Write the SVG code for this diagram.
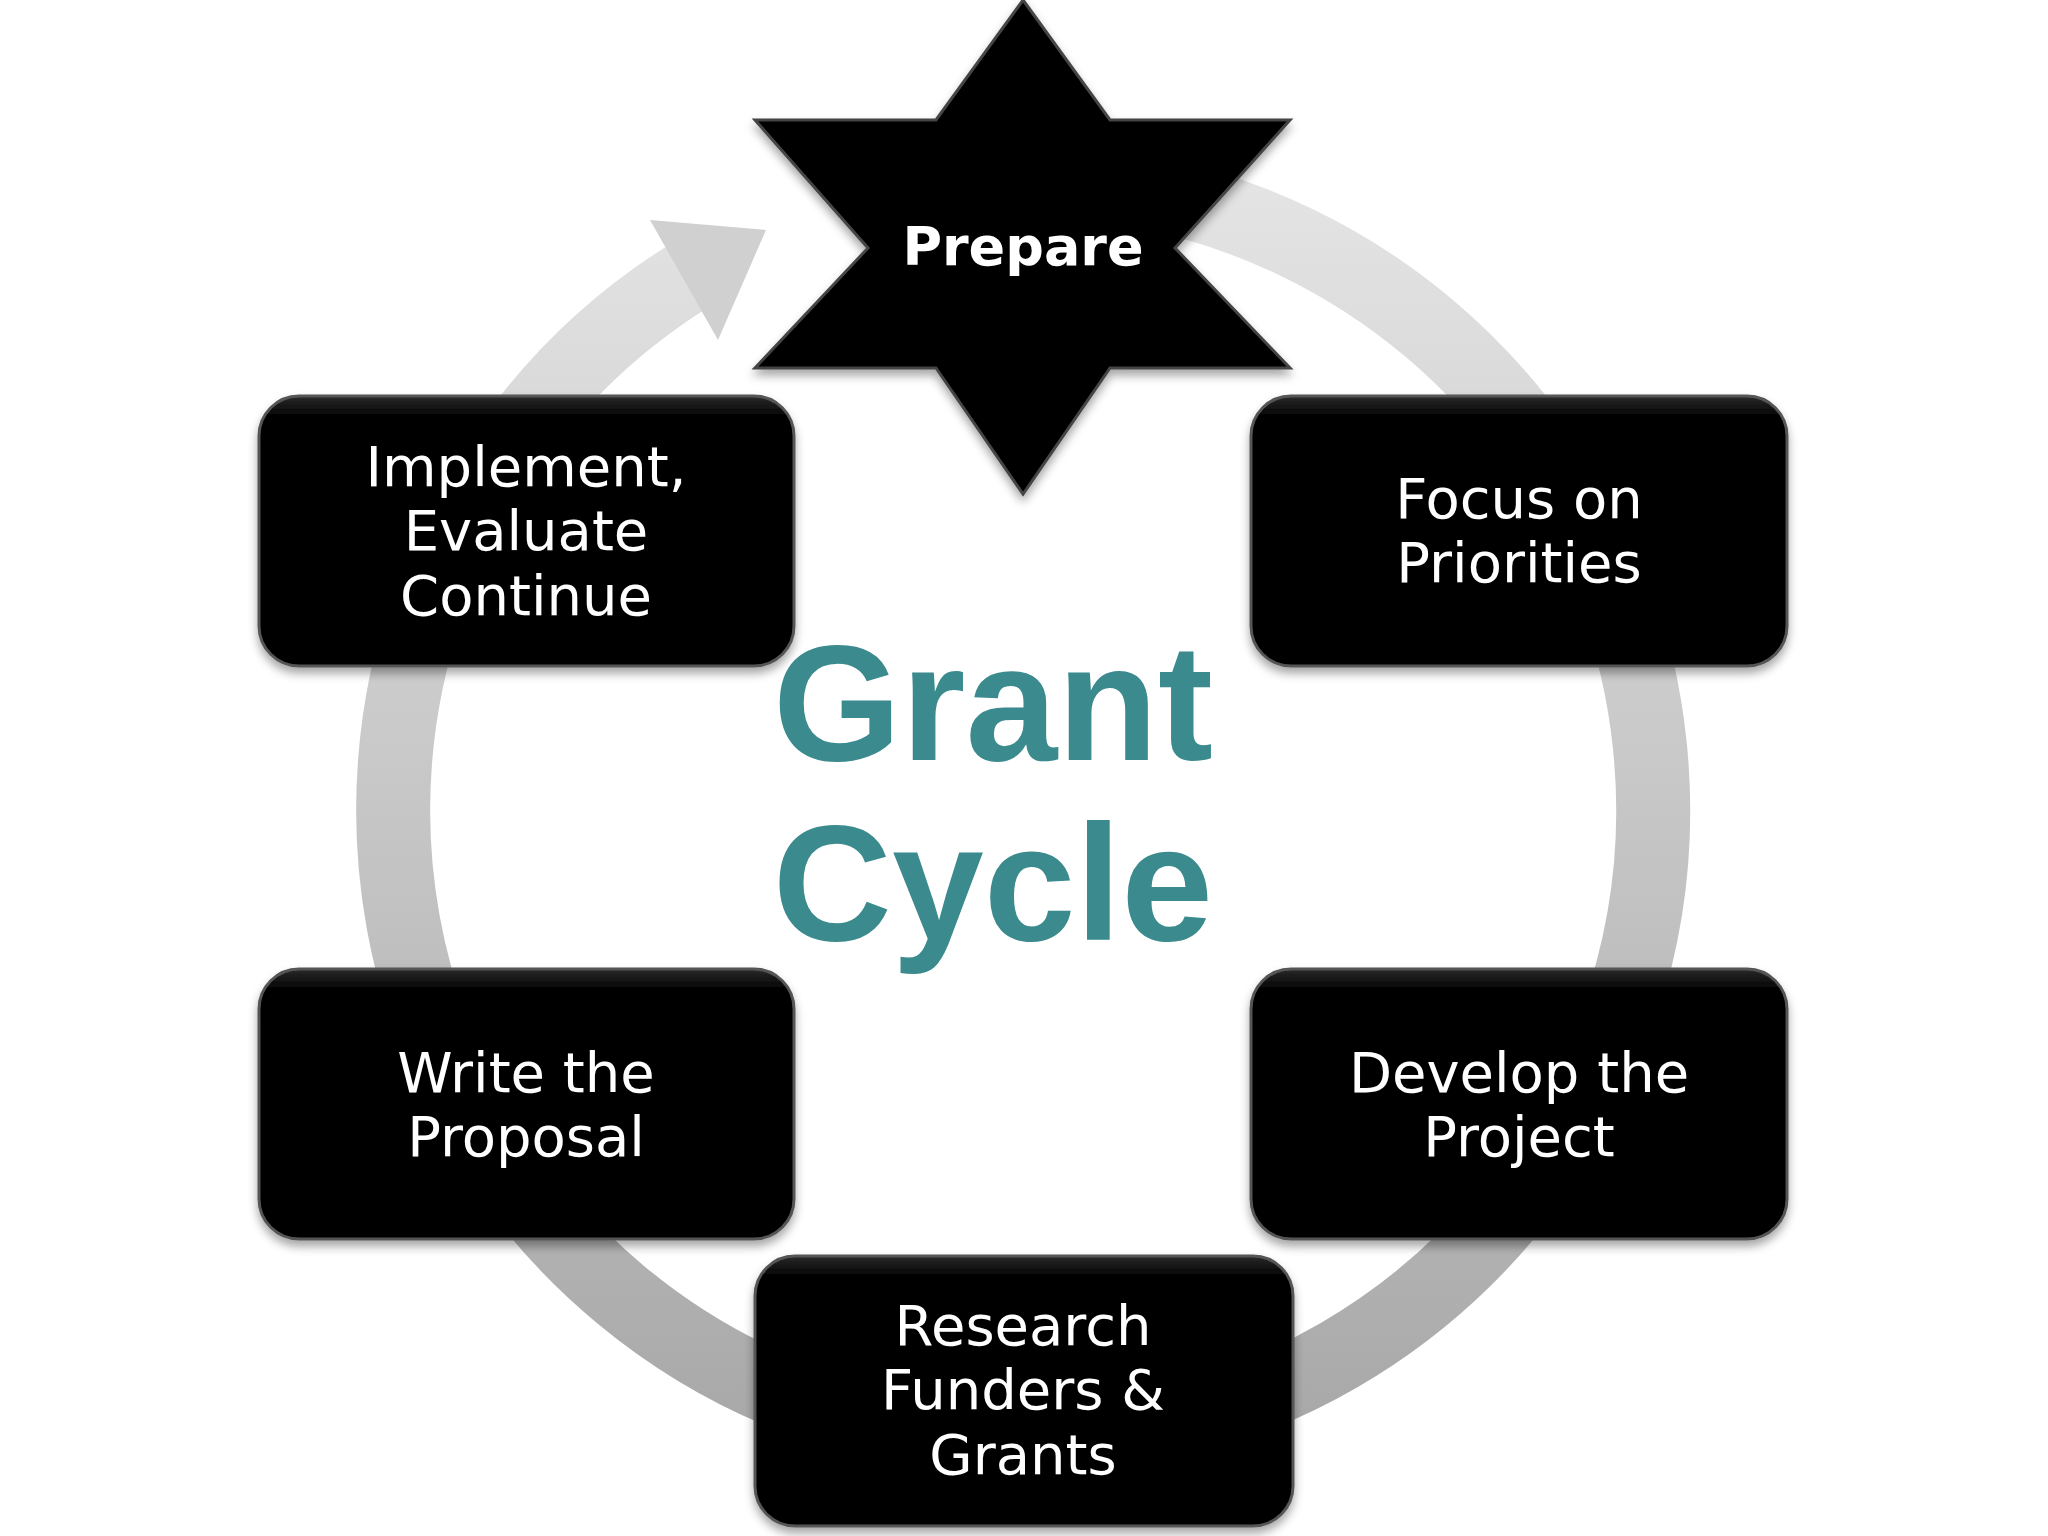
<svg xmlns="http://www.w3.org/2000/svg" width="2048" height="1536" viewBox="0 0 2048 1536">
<defs>
<linearGradient id="ring" x1="0" y1="0" x2="0" y2="1"><stop offset="0" stop-color="#e4e4e4"/><stop offset="1" stop-color="#a8a8a8"/></linearGradient>
<linearGradient id="box" x1="0" y1="0" x2="0" y2="1"><stop offset="0" stop-color="#2a2a2a"/><stop offset="0.08" stop-color="#000"/><stop offset="1" stop-color="#000"/></linearGradient>
<filter id="sh" x="-10%" y="-10%" width="120%" height="130%"><feDropShadow dx="0" dy="6" stdDeviation="5" flood-color="#000" flood-opacity="0.35"/></filter>
</defs>
<style>
.b{fill:url(#box);stroke:#555;stroke-width:3;filter:url(#sh)}
.t{font-family:"DejaVu Sans",sans-serif;font-size:56px;fill:#fff;text-anchor:middle}
.g{font-family:"Liberation Sans",sans-serif;font-weight:bold;font-size:165px;fill:#3a8a8e;text-anchor:middle}
</style>
<rect width="2048" height="1536" fill="#fff"/>
<g id="connectors">
<path d="M1023,180 A630,630 0 1 1 702,268" fill="none" stroke="url(#ring)" stroke-width="74"/>
<polygon points="650,220 766,230 718,340" fill="#d0d0d0"/>
</g>
<g id="prepare">
<polygon points="1023,0 1110,120 1290,120 1175,248 1290,368 1110,368 1023,494 936,368 755,368 868,248 755,120 936,120" fill="#000" stroke="#444" stroke-width="3" filter="url(#sh)"/>
<text x="1023" y="265" class="t" style="font-weight:bold;font-size:54px">Prepare</text>
</g>
<g id="focus"><rect x="1251" y="396" width="536" height="270" rx="40" class="b"/>
<text class="t" x="1519" y="518">Focus on</text><text class="t" x="1519" y="582">Priorities</text></g>
<g id="develop"><rect x="1251" y="969" width="536" height="270" rx="40" class="b"/>
<text class="t" x="1519" y="1092">Develop the</text><text class="t" x="1519" y="1156">Project</text></g>
<g id="research"><rect x="755" y="1256" width="538" height="270" rx="40" class="b"/>
<text class="t" x="1023" y="1345">Research</text><text class="t" x="1023" y="1409">Funders &amp;</text><text class="t" x="1023" y="1474">Grants</text></g>
<g id="write"><rect x="259" y="969" width="535" height="270" rx="40" class="b"/>
<text class="t" x="526" y="1092">Write the</text><text class="t" x="526" y="1156">Proposal</text></g>
<g id="implement"><rect x="259" y="396" width="535" height="270" rx="40" class="b"/>
<text class="t" x="526" y="486">Implement,</text><text class="t" x="526" y="550">Evaluate</text><text class="t" x="526" y="615">Continue</text></g>
<g id="title"><text class="g" x="993" y="760">Grant</text><text class="g" x="993" y="940">Cycle</text></g>
</svg>
